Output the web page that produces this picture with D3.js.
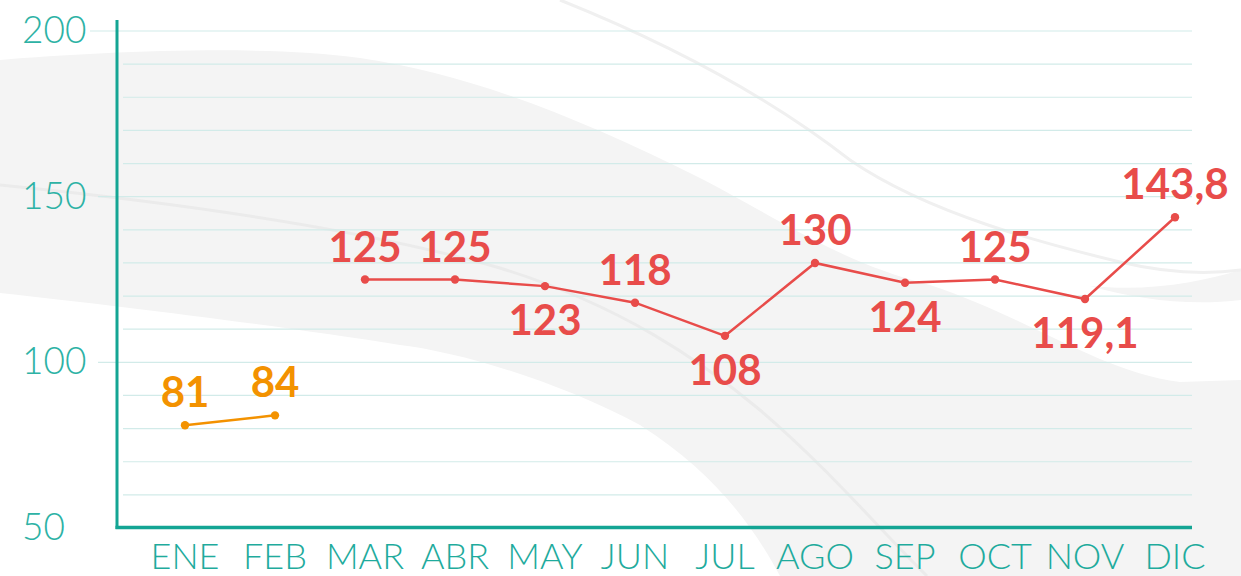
<!DOCTYPE html>
<html>
<head>
	<meta charset="utf-8">
	<title></title>
	<script src="https://d3js.org/d3.v7.min.js" charset="utf-8"></script>
	<style type="text/css">
		body {
			margin: 0;
			background-color: #fff;
		}
		svg text.month {
			font-family: 'Lato';
			font-weight: 300;
			font-size: 36px;
			fill: #1fab9d;
		}
		svg text.ytick {
			font-family: 'Lato';
			font-weight: 300;
			font-size: 37px;
			fill: #2db2a5;
		}
		svg text.value {
			font-family: 'Lato';
			font-weight: 700;
			font-size: 42px;
		}
	</style>
</head>
<body>
	<script type="text/javascript">
		// data
		var months = ["ENE", "FEB", "MAR", "ABR", "MAY", "JUN", "JUL", "AGO", "SEP", "OCT", "NOV", "DIC"];
		var firstMonths = ["ENE", "FEB"];
		var firstValues = [81, 84];
		var restMonths = ["MAR", "ABR", "MAY", "JUN", "JUL", "AGO", "SEP", "OCT", "NOV", "DIC"];
		var restValues = [125, 125, 123, 118, 108, 130, 124, 125, 119.1, 143.8];
		var yTicks = [50, 100, 150, 200];
		var labelsBelow = ["MAY", "JUL", "SEP", "NOV"];

		var w = 1241;
		var h = 576;

		var svg = d3.select('body')
			.append('svg')
			.attr('width', w)
			.attr('height', h);

		// background swoosh
		var bg = svg.append('g');
		bg.append('path')
			.attr('d', "M0,60 C100,52 260,44 360,58 C470,74 580,118 700,178 C790,225 840,262 930,285 C1030,318 1100,372 1180,382 L1241,380 L1241,576 L780,576 C750,520 710,470 640,425 C560,382 460,352 400,345 C280,326 120,306 0,293 Z")
			.attr('fill', '#f4f4f4');
		bg.append('path')
			.attr('d', "M1090,286 C1150,292 1200,282 1241,270 L1241,300 C1190,306 1140,300 1090,286 Z")
			.attr('fill', '#f4f4f4');
		bg.append('path')
			.attr('d', "M560,0 C660,40 760,90 850,160 C930,215 1050,245 1120,262 C1170,274 1210,274 1241,270")
			.attr('fill', 'none')
			.attr('stroke', '#f0f0f0')
			.attr('stroke-width', 3);
		bg.append('path')
			.attr('d', "M0,185 C150,200 350,225 500,268 C620,305 700,360 760,410 C830,470 880,530 927,576")
			.attr('fill', 'none')
			.attr('stroke', '#ebebeb')
			.attr('stroke-width', 3);

		// scales
		var x = d3.scalePoint()
			.domain(months)
			.range([185, 1175]);

		var y = d3.scaleLinear()
			.domain([50, 200])
			.range([528, 31]);

		var gridRight = 1192;
		var axisX = 117;

		// grid
		svg.append('g')
			.selectAll('line')
			.data(d3.range(60, 201, 10))
			.enter()
			.append('line')
			.attr('x1', function(d){
				if (d == 200) return 90;
				if (d % 50 == 0) return 98;
				return 123;
			})
			.attr('x2', gridRight)
			.attr('y1', function(d){ return y(d); })
			.attr('y2', function(d){ return y(d); })
			.attr('stroke', '#d2ebe9')
			.attr('stroke-width', 1.2);

		// axes
		svg.append('line')
			.attr('x1', axisX)
			.attr('x2', axisX)
			.attr('y1', 20)
			.attr('y2', y(50) + 1)
			.attr('stroke', '#14a594')
			.attr('stroke-width', 3);

		svg.append('line')
			.attr('x1', axisX - 1.5)
			.attr('x2', gridRight)
			.attr('y1', y(50) - 0.5)
			.attr('y2', y(50) - 0.5)
			.attr('stroke', '#14a594')
			.attr('stroke-width', 3.5);

		// y tick labels
		svg.selectAll('text.ytick')
			.data(yTicks)
			.enter()
			.append('text')
			.attr('class', 'ytick')
			.attr('x', 22)
			.attr('y', function(d){ return y(d) + 12; })
			.text(function(d){ return d; });

		// month labels
		svg.selectAll('text.month')
			.data(months)
			.enter()
			.append('text')
			.attr('class', 'month')
			.attr('x', function(d){ return x(d); })
			.attr('y', 569)
			.attr('text-anchor', 'middle')
			.text(function(d){ return d; });

		var line = d3.line()
			.x(function(d){ return x(d.m); })
			.y(function(d){ return y(d.v); });

		function draw_series(ms, vs, color){
			var data = ms.map(function(m, i){ return {m: m, v: vs[i]}; });
			var g = svg.append('g');

			g.append('path')
				.datum(data)
				.attr('d', line)
				.attr('fill', 'none')
				.attr('stroke', color)
				.attr('stroke-width', 2.5);

			g.selectAll('circle')
				.data(data)
				.enter()
				.append('circle')
				.attr('cx', function(d){ return x(d.m); })
				.attr('cy', function(d){ return y(d.v); })
				.attr('r', 4.2)
				.attr('fill', color);

			g.selectAll('text')
				.data(data)
				.enter()
				.append('text')
				.attr('class', 'value')
				.attr('fill', color)
				.attr('text-anchor', 'middle')
				.attr('x', function(d){ return x(d.m); })
				.attr('y', function(d){
					if (labelsBelow.indexOf(d.m) >= 0) return y(d.v) + 49;
					return y(d.v) - 18;
				})
				.text(function(d){ return String(d.v).replace('.', ','); });
		}

		draw_series(firstMonths, firstValues, '#f39200');
		draw_series(restMonths, restValues, '#e84c4a');
	</script>
</body>
</html>
